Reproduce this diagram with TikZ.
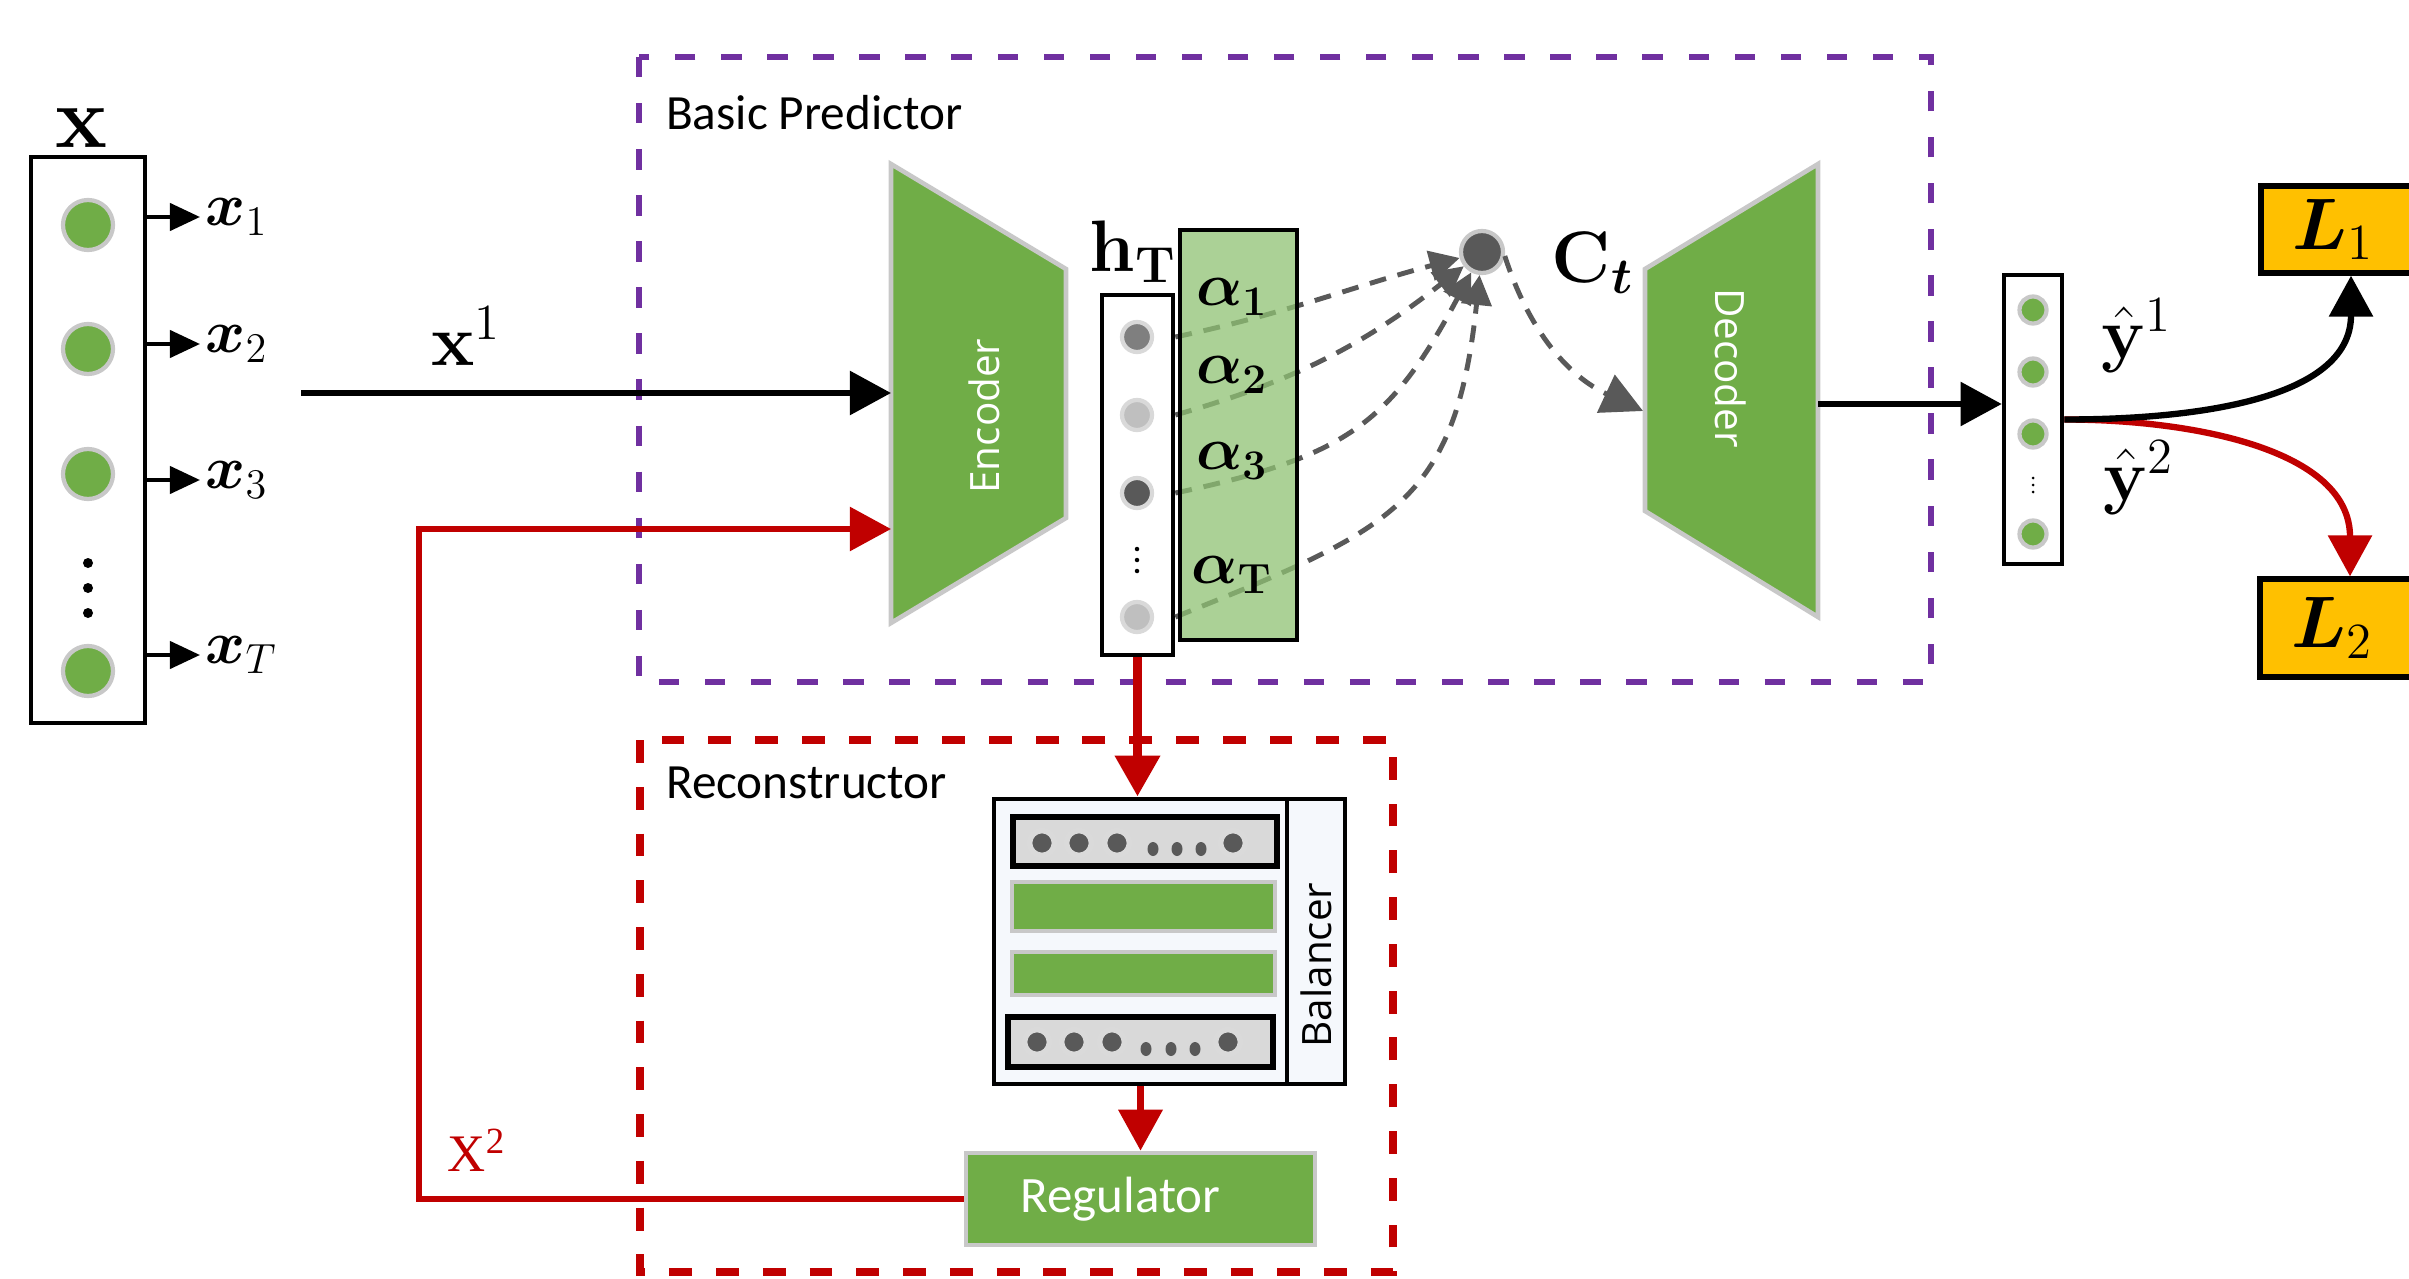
\documentclass[tikz,border=0pt]{standalone}
\usepackage{amsmath}
\usepackage[no-math]{fontspec}
\setmainfont{Carlito}
\newfontfamily\blockfont{Open Sans}
\newfontfamily\serifx{Liberation Serif}
\usetikzlibrary{arrows.meta, positioning, shapes.geometric, calc}
\definecolor{cgreen}{HTML}{70AD47}
\definecolor{calpha}{HTML}{8FC273}
\definecolor{cgold}{HTML}{FFC000}
\definecolor{cpurple}{HTML}{7030A0}
\definecolor{cred}{HTML}{C00000}
\definecolor{cdark}{HTML}{595959}
\definecolor{cmid}{HTML}{7F7F7F}
\definecolor{clight}{HTML}{BFBFBF}
\definecolor{cedge}{HTML}{C8C8C8}
\definecolor{cgrey}{HTML}{D9D9D9}
\definecolor{cbg}{HTML}{F5F8FC}
\tikzset{
  every picture/.style={x=0.01cm, y=-0.01cm, line width=1.2pt},
  mlab/.style={font=\fontsize{#1}{#1}\selectfont, inner sep=1pt},
  mlab/.default=20,
  tlab/.style={font=\fontsize{14}{17}\selectfont, anchor=west, inner sep=0pt},
  blk/.style={fill=cgreen, draw=cedge, line width=1.3pt},
  wtext/.style={text=white, font=\blockfont\fontsize{11.5}{14}\selectfont},
  vecbox/.style={draw=black, fill=white, line width=1.3pt},
  gdot/.style={circle, fill=cgreen, draw=cedge, line width=1.2pt, minimum size=#1, inner sep=0pt},
  hdot/.style={circle, fill=#1, draw=cedge!70, line width=1.2pt, minimum size=0.3cm, inner sep=0pt},
  tiny/.style={circle, fill=black, inner sep=0pt, minimum size=#1},
  bdot/.style={circle, fill=cdark, draw=cdark!22, line width=1.6pt, minimum size=0.25cm, inner sep=0pt},
  sdot/.style={ellipse, fill=cdark, minimum width=0.11cm, minimum height=0.14cm, inner sep=0pt},
  rowbox/.style={draw=black, fill=cgrey, line width=1.5pt},
  greenrow/.style={fill=cgreen, draw=cedge, line width=1.3pt},
  arrow/.style={-{Triangle[length=0.41cm, width=0.43cm]}, draw=black, line width=1.6pt},
  smallarrow/.style={-{Triangle[length=0.3cm, width=0.27cm]}, draw=black, line width=1.2pt},
  redarrow/.style={arrow, draw=cred},
  attn/.style={-{Triangle[length=0.3cm, width=0.3cm]}, draw=cdark, line width=1.4pt, dash pattern=on 4.8pt off 3.4pt},
  attnout/.style={attn, -{Triangle[length=0.41cm, width=0.41cm]}},
  lossbox/.style={draw=black, fill=cgold, line width=1.5pt, minimum width=1.8cm, font=\fontsize{21}{21}\selectfont},
  predframe/.style={draw=cpurple, line width=1.7pt, dash pattern=on 5.8pt off 7.3pt},
  recframe/.style={draw=cred, line width=2.3pt, dash pattern=on 6.5pt off 6.8pt},
}

\begin{document}
\begin{tikzpicture}
  \useasboundingbox (0,0) rectangle (2409,1279);
  % input sequence x
  \node[vecbox, minimum width=1.14cm, minimum height=5.66cm] (xbox) at (88,440) {};
  \node[mlab=24] (xlab) at (81,128) {$\mathbf{x}$};
  \foreach \n/\y in {1/225, 2/349, 3/474, T/671}
    \node[gdot=0.5cm] (xd\n) at (88,\y) {};
  \foreach \n/\y in {1/563, 2/588, 3/613}
    \node[tiny=0.1cm] (xv\n) at (88,\y) {};
  \foreach \n/\y in {1/217, 2/344, 3/480, T/655} {
    \node[mlab=18, anchor=west] (x\n) at (200,\y) {$\boldsymbol{x}_{\n}$};
    \draw[smallarrow] (xbox.east |- x\n.west) -- (x\n.west);
  }
  % basic predictor
  \draw[predframe] (639,57) rectangle (1931,682);
  \node[tlab] (bp) at (664,113) {Basic Predictor};
  \coordinate (xin) at (301,393);
  \coordinate (encin) at (891,393);
  \coordinate (encfb) at (891,529);
  \draw[blk] (891,164) -- (1066,269) -- (1066,518) -- (891,623) -- cycle;
  \node[wtext, rotate=90] (enc) at (984,416) {Encoder};
  \draw[arrow] (xin) -- (encin);
  \node[mlab=22] (xone) at (466,336) {$\mathbf{x}^1$};
  % hidden states and attention
  \node[circle, fill=cdark, draw=cedge, line width=1.2pt, minimum size=0.42cm, inner sep=0pt] (ctx) at (1482,252) {};
  \node[mlab=21] (ct) at (1593,263) {$\mathbf{C}_{\boldsymbol{t}}$};
  \node[vecbox, minimum width=0.71cm, minimum height=3.6cm] (hbox) at (1137.5,475) {};
  \node[mlab=21] (ht) at (1133,252) {$\mathbf{h}_{\mathbf{T}}$};
  \foreach \n/\y/\c in {1/337/cmid, 2/415/clight, 3/493/cdark, 4/617/clight}
    \node[hdot=\c] (h\n) at (1137,\y) {};
  \foreach \n/\y in {1/549, 2/560, 3/571}
    \node[tiny=0.045cm] (hv\n) at (1137,\y) {};
  \draw[attn] (hbox.east |- h1) to[out=12, in=195] (ctx);
  \draw[attn] (hbox.east |- h2) to[out=16, in=218] (ctx);
  \draw[attn] (hbox.east |- h3) to[out=12, in=242, looseness=1.2] (ctx);
  \draw[attn] (hbox.east |- h4) to[out=22, in=264, looseness=1.3] (ctx);
  \node[draw=black, fill=calpha, fill opacity=0.75, line width=1.3pt, minimum width=1.17cm, minimum height=4.1cm] (abox) at (1238.5,435) {};
  \foreach \n/\y in {1/297, 2/375, 3/461, T/575}
    \node[mlab=17] (a\n) at (1232,\y) {$\boldsymbol{\alpha}_{\mathbf{\n}}$};
  % decoder
  \draw[blk] (1645,269) -- (1818,164) -- (1818,617) -- (1645,511) -- cycle;
  \node[wtext, rotate=-90] (dec) at (1731,368) {Decoder};
  \coordinate (decin) at (1643,411);
  \draw[attnout] (ctx.-10) to[out=-72, in=155] (decin);
  % outputs and losses
  \coordinate (decout) at (1818,404);
  \node[vecbox, minimum width=0.58cm, minimum height=2.89cm] (ybox) at (2033,419.5) {};
  \draw[arrow] (decout) -- (decout -| ybox.west);
  \foreach \n/\y in {1/310, 2/372, 3/434, 4/534}
    \node[gdot=0.27cm] (o\n) at (2033,\y) {};
  \foreach \n/\y in {1/478, 2/485, 3/492}
    \node[tiny=0.03cm] (yv\n) at (2033,\y) {};
  \node[mlab=21] (yone) at (2137,336) {$\hat{\mathbf{y}}^1$};
  \node[mlab=21] (ytwo) at (2139,478) {$\hat{\mathbf{y}}^2$};
  \node[lossbox, minimum height=0.87cm] (L1) at (2351,229.5) {$\boldsymbol{L}_1$\kern0.35cm};
  \node[lossbox, minimum height=0.98cm] (L2) at (2350,628) {$\boldsymbol{L}_2$\kern0.35cm};
  \draw[redarrow, line width=1.8pt] (ybox.east) to[out=0, in=90] (L2);
  \draw[arrow, line width=1.8pt] (ybox.east) to[out=0, in=-90] (L1);
  % reconstructor
  \draw[recframe] (640,740) rectangle (1393,1272);
  \node[tlab] (rec) at (664,783) {Reconstructor};
  \node[draw=black, fill=cbg, line width=1.3pt, minimum width=3.51cm, minimum height=2.85cm] (bal) at (1169.5,941.5) {};
  \draw[line width=1.3pt] (1287,799) -- (1287,1084);
  \node[wtext, text=black, rotate=90] (baltxt) at (1316,965) {Balancer};
  \node[rowbox, minimum width=2.64cm, minimum height=0.49cm] (r1) at (1145,841.5) {};
  \node[greenrow, minimum width=2.63cm, minimum height=0.49cm] (r2) at (1143.5,906.5) {};
  \node[greenrow, minimum width=2.63cm, minimum height=0.43cm] (r3) at (1143.5,973.5) {};
  \node[rowbox, minimum width=2.65cm, minimum height=0.5cm] (r4) at (1140.5,1042) {};
  \foreach \x in {1042, 1079, 1117, 1233}
    \node[bdot] (ba\x) at (\x,843) {};
  \foreach \x in {1153, 1177, 1201}
    \node[sdot] (sa\x) at (\x,849) {};
  \foreach \x in {1037, 1074, 1112, 1228}
    \node[bdot] (bb\x) at (\x,1042) {};
  \foreach \x in {1146, 1171, 1195}
    \node[sdot] (sb\x) at (\x,1049) {};
  \node[blk, minimum width=3.49cm, minimum height=0.92cm, text=white, font=\fontsize{14.5}{17}\selectfont] (reg) at (1140.5,1199) {Regulator\kern0.4cm};
  \draw[redarrow, line width=2.8pt] (hbox.south) -- (hbox.south |- bal.north);
  \draw[redarrow, line width=2pt] (bal.south -| reg.north) -- (reg.north);
  \coordinate (fbturn) at (419,529);
  \draw[redarrow] (reg.west) -| (fbturn) -- (encfb);
  \node[text=cred, font=\serifx\fontsize{15}{18}\selectfont] (xtwo) at (477,1150) {X\textsuperscript{2}};
\end{tikzpicture}
\end{document}
